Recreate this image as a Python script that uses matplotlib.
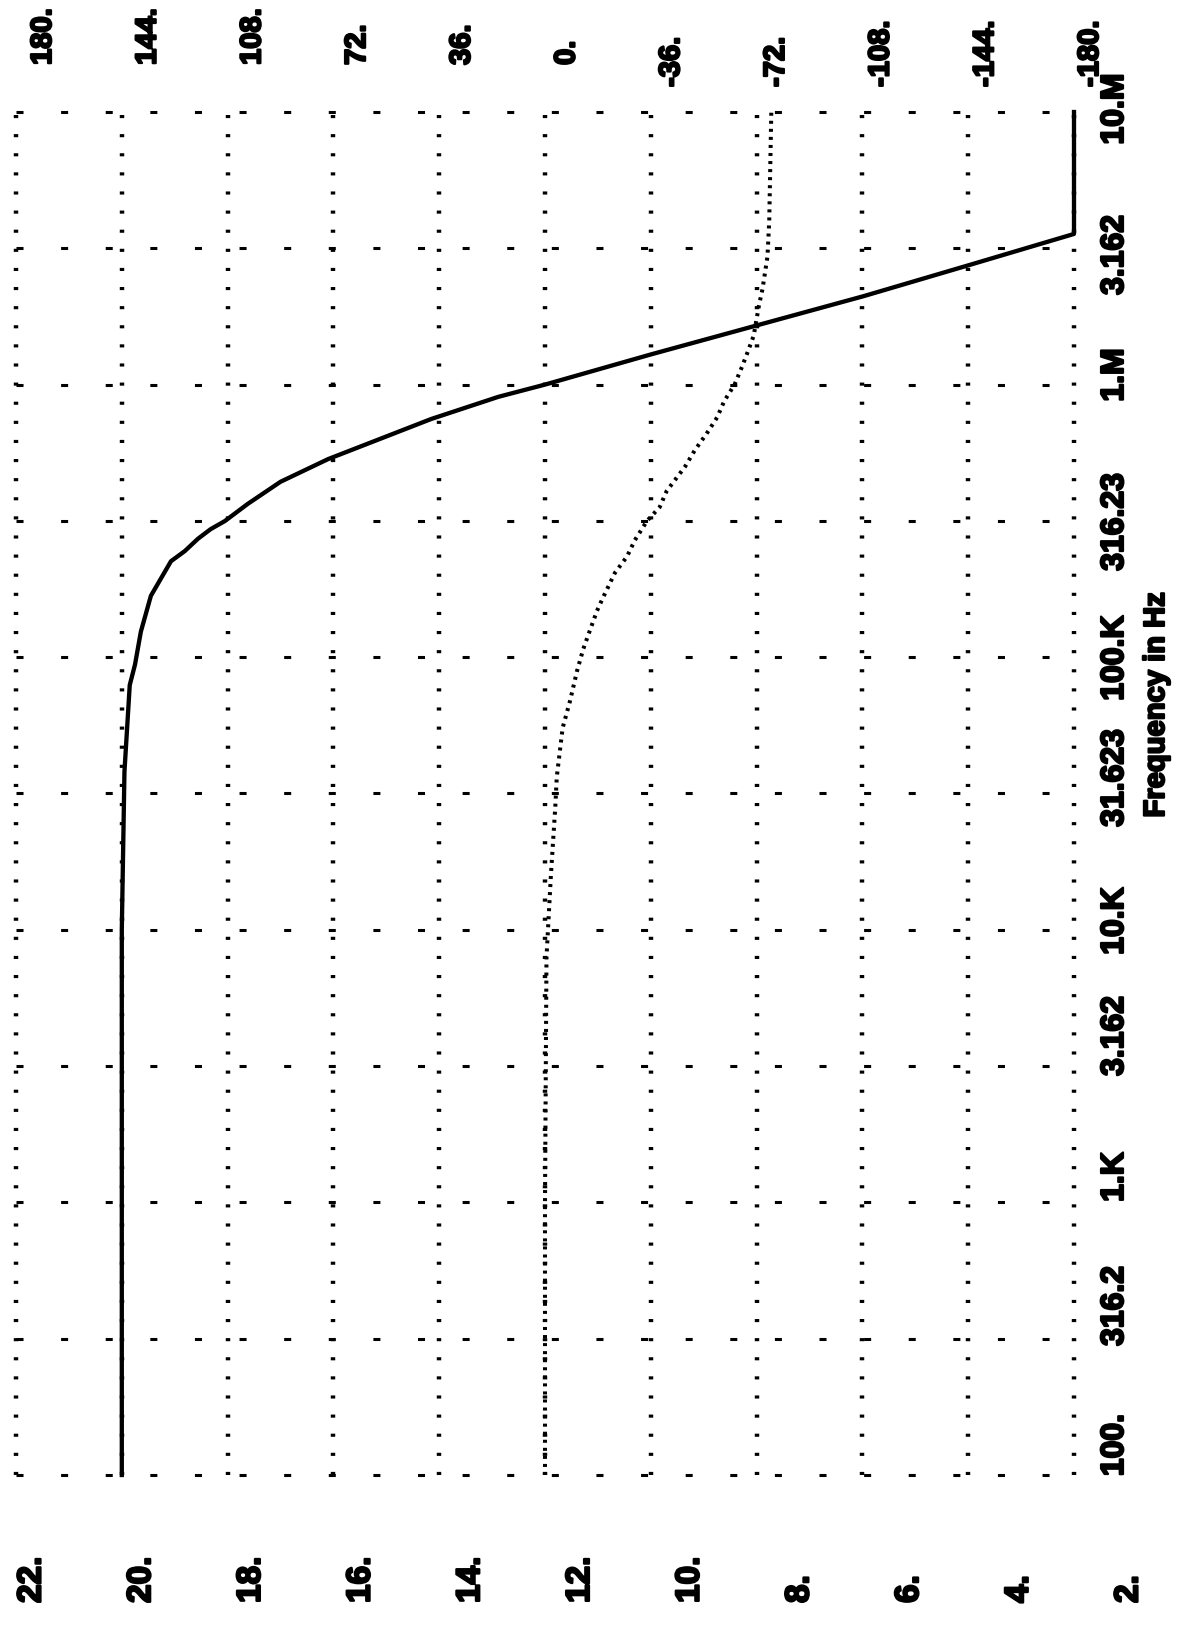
import matplotlib
matplotlib.use('Agg')
import matplotlib.pyplot as plt
import matplotlib.patheffects as pe

plt.rcParams['font.family'] = ['Liberation Sans', 'DejaVu Sans']
plt.rcParams['font.weight'] = 'bold'

# magnitude trace (frequency in Hz, magnitude)
mag_freq = [100, 1e4, 3.8e4, 7.9e4, 9.4e4, 1.24e5, 1.68e5, 2.25e5, 2.45e5, 2.72e5,
            2.95e5, 3.16e5, 3.65e5, 4.4e5, 5.33e5, 7.48e5, 9.02e5, 1.0e6, 1.29e6,
            1.64e6, 2.11e6, 2.72e6, 3.57e6, 1.0e7]
mag_vals = [20.0, 20.0, 19.95, 19.85, 19.75, 19.64, 19.45, 19.07, 18.81, 18.56,
            18.32, 18.05, 17.62, 17.0, 16.1, 14.15, 12.88, 12.0, 10.0,
            8.04, 5.98, 4.05, 2.0, 2.0]

# phase trace (frequency in Hz, degrees)
phase_freq = [100, 1e3, 7.9e3, 1.58e4, 2.82e4, 3.63e4, 5.5e4, 6.9e4, 8.9e4, 1.07e5,
              1.23e5, 1.48e5, 1.66e5, 2.04e5, 2.34e5, 2.69e5, 3.16e5, 3.55e5, 4.07e5,
              5.01e5, 5.75e5, 6.61e5, 7.59e5, 8.71e5, 1.0e6, 1.16e6, 1.32e6, 1.51e6,
              1.95e6, 2.24e6, 2.95e6, 3.98e6, 1.0e7]
phase_vals = [0, 0, -0.5, -2, -3.5, -4, -6, -8.5, -10.9, -13,
              -15, -17.7, -19.8, -23.8, -27.9, -30.6, -34.7, -39, -41.4,
              -47.7, -51, -55, -58.6, -61, -64.5, -67, -69, -71,
              -72.8, -74, -75.7, -76.3, -77]

mag_ticks = [22, 20, 18, 16, 14, 12, 10, 8, 6, 4, 2]
mag_labels = ['22.', '20.', '18.', '16.', '14.', '12.', '10.', '8.', '6.', '4.', '2.']
phase_ticks = [180, 144, 108, 72, 36, 0, -36, -72, -108, -144, -180]
phase_labels = ['180.', '144.', '108.', '72.', '36.', '0.', '-36.', '-72.', '-108.', '-144.', '-180.']
freq_ticks = [100, 316.2, 1e3, 3162, 1e4, 31623, 1e5, 316230, 1e6, 3162000, 1e7]
freq_labels = ['100.', '316.2', '1.K', '3.162', '10.K', '31.623', '100.K', '316.23', '1.M', '3.162', '10.M']
freq_title = 'Frequency in Hz'

W, H = 1190, 1640


def fx(px):
    return px / W


def fy(py):
    return 1 - py / H


fig = plt.figure(figsize=(W / 100, H / 100), dpi=100)
fig.patch.set_facecolor('white')

# chart is printed sideways: magnitude runs right-to-left, frequency upward
ax = fig.add_axes([fx(16), fy(1476), fx(1074) - fx(16), fy(113) - fy(1476)])
ax.set_xlim(22, 2)
ax.set_yscale('log')
ax.set_ylim(100, 1e7)
ax.set_xticks(mag_ticks)
ax.set_yticks(freq_ticks)
ax.yaxis.set_minor_locator(matplotlib.ticker.NullLocator())
ax.tick_params(length=0, labelbottom=False, labelleft=False)
for s in ax.spines.values():
    s.set_visible(False)

ax.xaxis.grid(True, color='black', linewidth=3.2, linestyle=(0, (0.7, 3.6)))
ax.yaxis.grid(True, color='black', linewidth=2.2, linestyle=(0, (2.3, 12.3)))
for gl in ax.get_xgridlines() + ax.get_ygridlines():
    gl.set_clip_on(False)

ax.plot(mag_vals, mag_freq, color='black', linewidth=3.1, clip_on=False, zorder=3)

ax2 = ax.twiny()
ax2.set_xlim(180, -180)
ax2.tick_params(length=0, labeltop=False)
for s in ax2.spines.values():
    s.set_visible(False)
ax2.plot(phase_vals, phase_freq, color='black', linewidth=2.9,
         linestyle=(0, (0.75, 1.25)), clip_on=False, zorder=3)

# heavy printer-style lettering
heavy = [pe.withStroke(linewidth=1.6, foreground='black')]

for k, lab in enumerate(mag_labels):
    fig.text(fx(32 + 109.7 * k), fy(1604), lab, rotation=90, rotation_mode='anchor',
             ha='left', va='center', fontsize=24, fontweight='bold', path_effects=heavy)

for k, lab in enumerate(phase_labels):
    y0 = 66 + (22 if lab.startswith('-') else 0)
    fig.text(fx(43 + 104.7 * k), fy(y0), lab, rotation=90, rotation_mode='anchor',
             ha='left', va='center', fontsize=21, fontweight='bold', path_effects=heavy)

freq_label_y = [1446, 1307, 1178, 1037, 922, 779, 659, 523, 376, 256, 110]
for lab, yc in zip(freq_labels, freq_label_y):
    fig.text(fx(1115), fy(yc), lab, rotation=90, ha='center', va='center',
             fontsize=23, fontweight='bold', path_effects=heavy)

fig.text(fx(1156), fy(706), freq_title, rotation=90, ha='center', va='center',
         fontsize=21, fontweight='bold', path_effects=heavy)

fig.savefig('out.png', dpi=100, facecolor='white')
